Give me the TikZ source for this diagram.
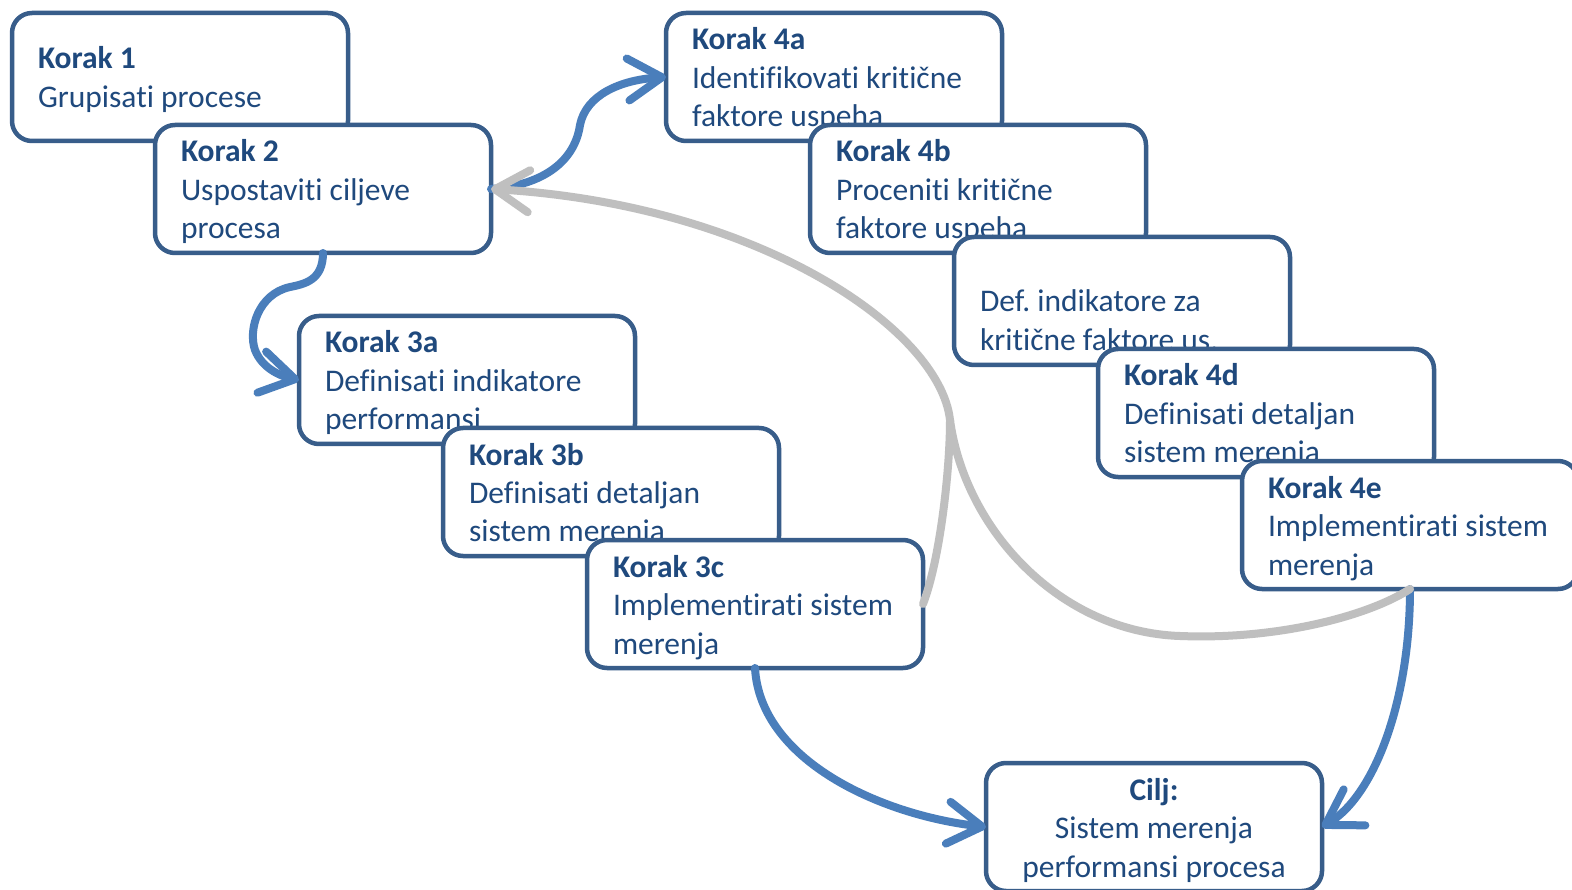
\documentclass[tikz,border=0pt]{standalone}
\usepackage{fontspec}
\setmainfont{Carlito}[RawFeature={-liga;-clig;-calt;-dlig}]
\usetikzlibrary{arrows.meta}
\definecolor{txtblue}{RGB}{31,73,125}
\definecolor{edgeblue}{RGB}{56,93,138}
\definecolor{arrblue}{RGB}{74,126,187}
\definecolor{arrgray}{RGB}{191,191,191}
\newcommand\tki{t\kern0pt i}
\frenchspacing
\begin{document}
\begin{tikzpicture}[x=1pt,y=-1pt,
  stepbox/.style={draw=edgeblue, fill=white, line width=4.5pt, rounded corners=20pt,
    minimum width=336pt, minimum height=128pt, anchor=north west, inner sep=0pt, outer sep=0pt},
  steptext/.style={anchor=base west, inner sep=0pt, outer sep=0pt, text=txtblue,
    font=\fontsize{31.5}{38.5}\selectfont},
  barrow/.style={draw=arrblue, line width=8pt, line cap=round,
    -{Straight Barb[length=34pt,width=42pt,round]}},
  garrow/.style={draw=arrgray, line width=8pt, line cap=round,
    -{Straight Barb[length=34pt,width=42pt,round]}},
  gline/.style={draw=arrgray, line width=8pt, line cap=round},
]
\useasboundingbox (0,0) rectangle (1572,890);
\fill[white] (0,0) rectangle (1572,890);

% step 1, 2
\node[stepbox] (b1) at (12,13) {};
\node[steptext] (t1) at ([xshift=26pt,yshift=-56pt]b1.north west)
  {\begin{tabular}[t]{@{}l@{}}\textbf{Korak 1}\\Grupisati procese\end{tabular}};
\node[stepbox] (b2) at (155,125) {};
\node[steptext] (t2) at ([xshift=26pt,yshift=-37pt]b2.north west)
  {\begin{tabular}[t]{@{}l@{}}\textbf{Korak 2}\\Uspostavi\tki{} ciljeve\\procesa\end{tabular}};

% step 4
\node[stepbox] (b4a) at (666,13) {};
\node[steptext] (t4a) at ([xshift=26pt,yshift=-37pt]b4a.north west)
  {\begin{tabular}[t]{@{}l@{}}\textbf{Korak 4a}\\Identifikova\tki{} kri\tki čne\\faktore uspeha\end{tabular}};
\node[stepbox] (b4b) at (810,125) {};
\node[steptext] (t4b) at ([xshift=26pt,yshift=-37pt]b4b.north west)
  {\begin{tabular}[t]{@{}l@{}}\textbf{Korak 4b}\\Proceni\tki{} kri\tki čne\\faktore uspeha\end{tabular}};
\node[stepbox] (b4c) at (954,237) {};
\node[steptext] (t4c) at ([xshift=26pt,yshift=-75pt]b4c.north west)
  {\begin{tabular}[t]{@{}l@{}}Def. indikatore za\\kri\tki čne faktore us.\end{tabular}};
\node[stepbox] (b4d) at (1098,349) {};
\node[steptext] (t4d) at ([xshift=26pt,yshift=-37pt]b4d.north west)
  {\begin{tabular}[t]{@{}l@{}}\textbf{Korak 4d}\\Definisa\tki{} detaljan\\sistem merenja\end{tabular}};
\node[stepbox] (b4e) at (1242,461) {};
\node[steptext] (t4e) at ([xshift=26pt,yshift=-37pt]b4e.north west)
  {\begin{tabular}[t]{@{}l@{}}\textbf{Korak 4e}\\Implemen\tki ra\tki{} sistem\\merenja\end{tabular}};

% step 3
\node[stepbox] (b3a) at (299,316) {};
\node[steptext] (t3a) at ([xshift=26pt,yshift=-37pt]b3a.north west)
  {\begin{tabular}[t]{@{}l@{}}\textbf{Korak 3a}\\Definisa\tki{} indikatore\\performansi\end{tabular}};
\node[stepbox] (b3b) at (443,428) {};
\node[steptext] (t3b) at ([xshift=26pt,yshift=-37pt]b3b.north west)
  {\begin{tabular}[t]{@{}l@{}}\textbf{Korak 3b}\\Definisa\tki{} detaljan\\sistem merenja\end{tabular}};
\node[stepbox] (b3c) at (587,540) {};
\node[steptext] (t3c) at ([xshift=26pt,yshift=-37pt]b3c.north west)
  {\begin{tabular}[t]{@{}l@{}}\textbf{Korak 3c}\\Implemen\tki ra\tki{} sistem\\merenja\end{tabular}};

% goal
\node[stepbox] (cilj) at (986,763) {};
\node[steptext, anchor=base] (tc) at ([yshift=-37pt]cilj.north)
  {\begin{tabular}[t]{@{}c@{}}\textbf{Cilj:}\\Sistem merenja\\performansi procesa\end{tabular}};

% blue connectors
\draw[barrow] (b2.south) .. controls (323,280) and (305,284) .. (290,287)
  .. controls (258,294) and (248,330) .. (255,350)
  .. controls (262,368) and (280,376) .. (b3a.west);
\draw[barrow] (b2.east) .. controls (545,185) and (575,160) .. (580,125)
  .. controls (586,95) and (620,80) .. (b4a.west);
\draw[barrow] (b3c.south) .. controls (760,760) and (880,815) .. (cilj.west);
\draw[barrow] (b4e.south) .. controls (1410,700) and (1375,795) .. (cilj.east);

% gray feedback
\coordinate (m) at (950,420);
\draw[gline] (b3c.east) .. controls (940,560) and (950,470) .. (m);
\draw[garrow] (b4e.south) .. controls (1370,615) and (1280,640) .. (1180,636)
  .. controls (1060,632) and (965,530) .. (m)
  .. controls (940,330) and (760,205) .. (b2.east);
\end{tikzpicture}
\end{document}
